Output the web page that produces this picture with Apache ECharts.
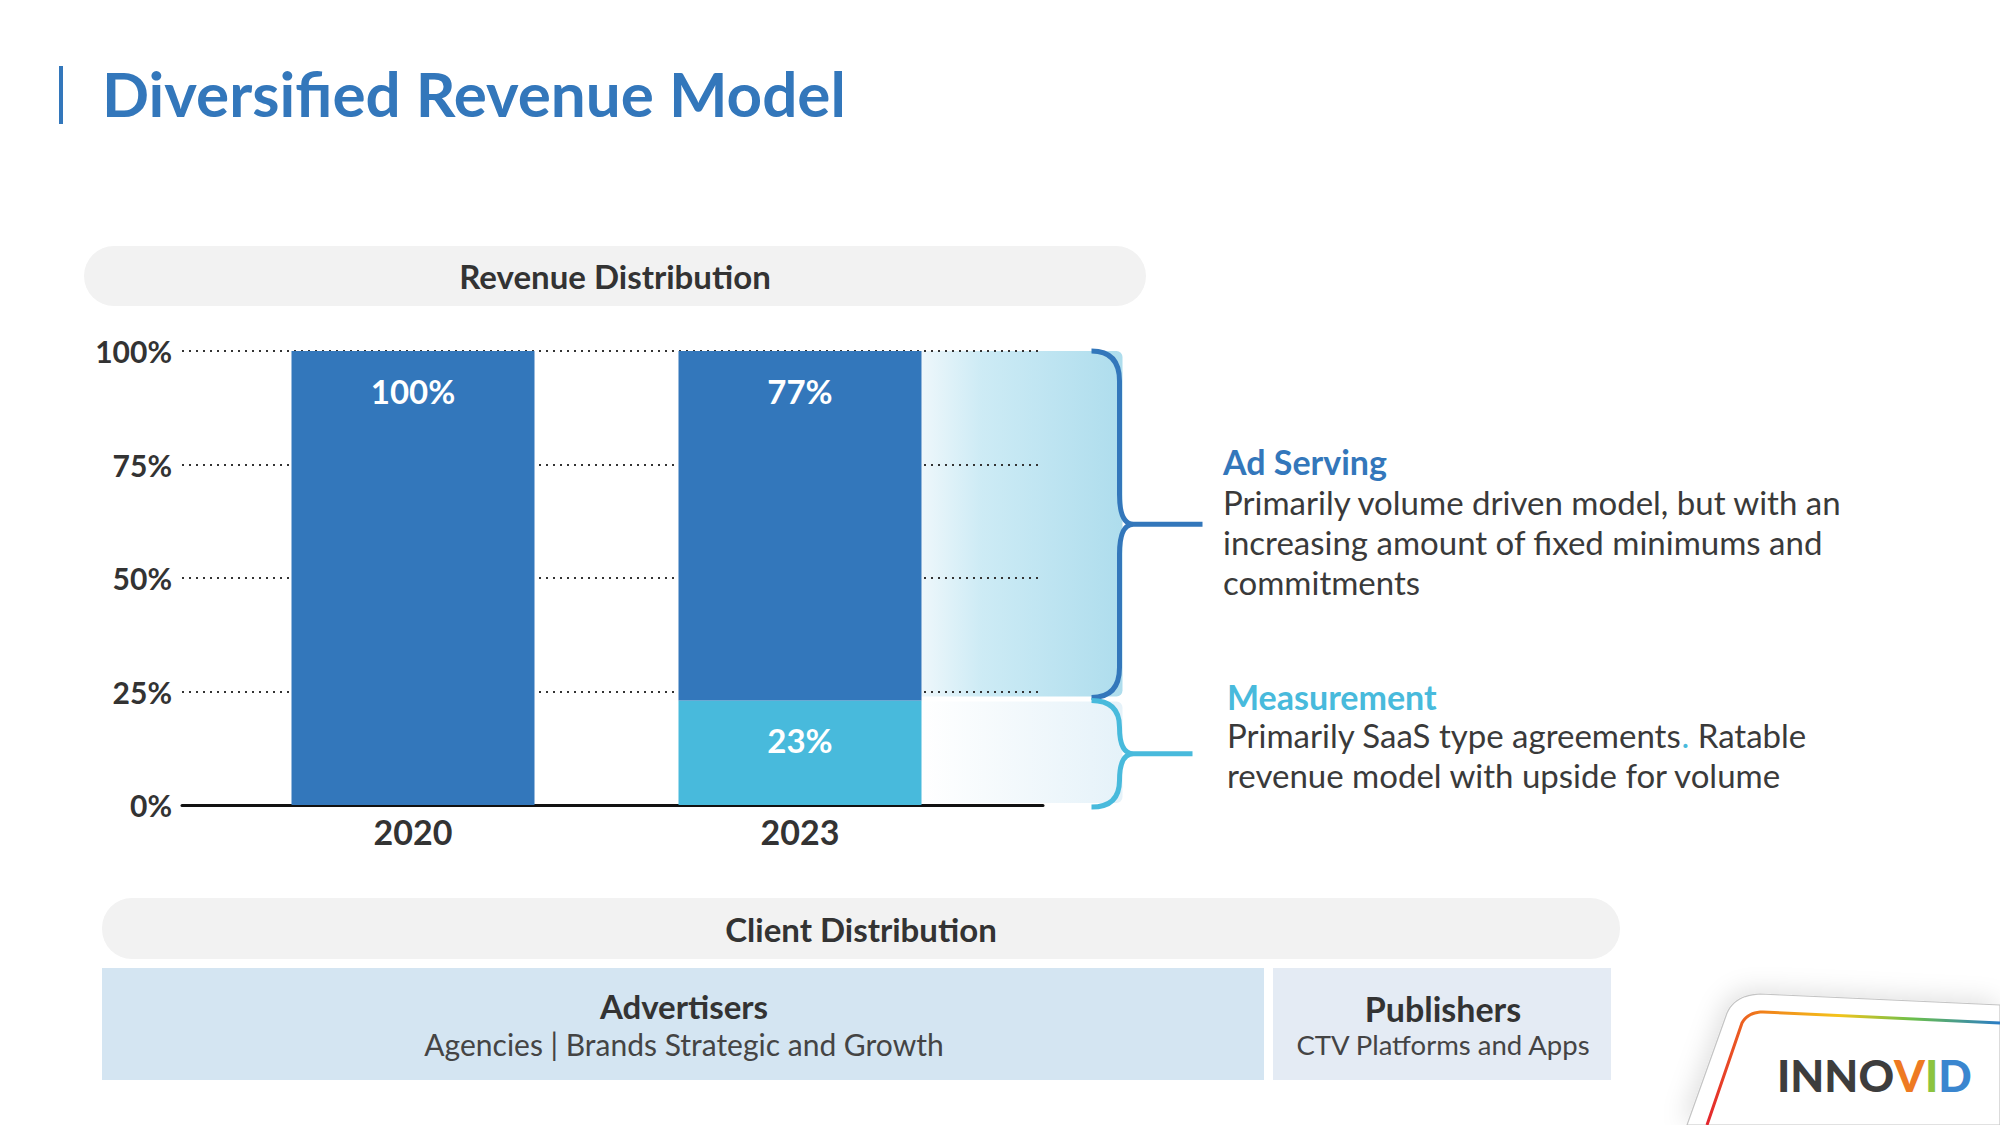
<!DOCTYPE html>
<html>
<head>
<meta charset="utf-8">
<script src="https://cdn.jsdelivr.net/npm/echarts@6/dist/echarts.min.js"></script>
<style>
html,body{margin:0;padding:0;background:#fff;}
#chart{width:2000px;height:1125px;}
</style>
</head>
<body>
<div id="chart"></div>
<script>
// ---- data ----
var categories = ['2020', '2023'];
var measurement = [0, 23];
var adServing = [100, 77];
var yTicks = [0, 25, 50, 75, 100];
var segmentNames = ['Ad Serving', 'Measurement'];

// ---- styles ----
var FONT = 'Lato, "Open Sans", sans-serif';
var DARK_BLUE = '#3377bb';
var LIGHT_BLUE = '#48badc';
var TEXT = '#3a3a3a';
var BAR_W = 243;

var chart = echarts.init(document.getElementById('chart'), null, {renderer: 'svg'});

// segments of the last (2023) bar, derived from the data
var last = categories.length - 1;
var segData = [
  [last, measurement[last], measurement[last] + adServing[last], 0],
  [last, 0, measurement[last], 1]
];
var segStyle = [
  {color: DARK_BLUE, stops: [[0, '#eef7fb'], [0.3, '#cdebf5'], [1, '#aedded']], gapTop: 0, gapBot: 4, bTop: 0, bBot: 3, lineLen: 281},
  {color: LIGHT_BLUE, stops: [[0, '#ffffff'], [1, '#e5f2f9']], gapTop: 1, gapBot: 2, bTop: 0, bBot: 2, lineLen: 271}
];

function shadeItem(params, api) {
  var s = segStyle[api.value(3)];
  var top = api.coord([api.value(0), api.value(2)]);
  var bot = api.coord([api.value(0), api.value(1)]);
  var x0 = top[0] + BAR_W / 2;
  var y0 = top[1] + s.gapTop, y1 = bot[1] - s.gapBot;
  return {
    type: 'rect',
    shape: {x: x0, y: y0, width: 201, height: y1 - y0, r: [0, 6, 6, 0]},
    style: {fill: new echarts.graphic.LinearGradient(0, 0, 1, 0, s.stops.map(function (p) { return {offset: p[0], color: p[1]}; }))}
  };
}
function braceItem(params, api) {
  var s = segStyle[api.value(3)];
  var top = api.coord([api.value(0), api.value(2)]);
  var bot = api.coord([api.value(0), api.value(1)]);
  var x0 = top[0] + BAR_W / 2;
  var yT = top[1] + s.bTop, yB = bot[1] + (api.value(3) === 0 ? -s.bBot : s.bBot);
  var ym = (yT + yB) / 2;
  var xt = x0 + 170, xs = x0 + 198, xp = x0 + 212, xe = x0 + s.lineLen;
  var r = Math.min(30, (yB - yT) / 4);
  var d = 'M' + xt + ',' + yT +
    ' Q' + xs + ',' + yT + ' ' + xs + ',' + (yT + r) +
    ' L' + xs + ',' + (ym - r) +
    ' Q' + xs + ',' + ym + ' ' + xp + ',' + ym +
    ' Q' + xs + ',' + ym + ' ' + xs + ',' + (ym + r) +
    ' L' + xs + ',' + (yB - r) +
    ' Q' + xs + ',' + yB + ' ' + xt + ',' + yB +
    ' M' + xp + ',' + ym + ' L' + xe + ',' + ym;
  return {
    type: 'path',
    shape: {pathData: d},
    style: {fill: 'none', stroke: s.color, lineWidth: 5, lineCap: 'butt'}
  };
}

// helper for the logo card outline (decoration): points along a rounded corner
function cornerPts(a, c, b, n) {
  var pts = [];
  for (var i = 0; i <= n; i++) {
    var t = i / n, u = 1 - t;
    pts.push([u * u * a[0] + 2 * u * t * c[0] + t * t * b[0], u * u * a[1] + 2 * u * t * c[1] + t * t * b[1]]);
  }
  return pts;
}
var cardPts = [[1687, 1125]].concat(cornerPts([1727, 1013], [1735, 995], [1760, 994], 12)).concat([[2000, 1005], [2000, 1125]]);
var rainbowPts = [[1707, 1125]].concat(cornerPts([1742, 1023], [1748, 1012], [1763, 1012], 10)).concat([[2000, 1023]]);

var option = {
  backgroundColor: '#ffffff',
  textStyle: {fontFamily: FONT},
  grid: [
    {left: 182, top: 351, width: 861, height: 454},
    {left: 219.5, top: 351, width: 774, height: 454}
  ],
  xAxis: [
    {gridIndex: 0, type: 'value', min: 0, max: 1,
     axisLine: {show: true, lineStyle: {color: '#111', width: 3}},
     axisTick: {show: false}, axisLabel: {show: false}, splitLine: {show: false}},
    {gridIndex: 1, type: 'category', data: categories,
     axisLine: {show: false}, axisTick: {show: false},
     axisLabel: {margin: 9, fontSize: 34, fontWeight: 'bold', color: '#333', fontFamily: FONT}}
  ],
  yAxis: [
    {gridIndex: 0, type: 'value', min: yTicks[0], max: yTicks[yTicks.length - 1], interval: 25,
     axisLine: {show: false}, axisTick: {show: false},
     axisLabel: {formatter: '{value}%', margin: 10, fontSize: 30, fontWeight: 'bold', color: '#333', fontFamily: FONT, padding: [0, 0, 4, 0]},
     splitLine: {show: true, lineStyle: {type: [2, 5], width: 2, color: '#333'}}},
    {gridIndex: 1, type: 'value', min: 0, max: 100, show: false}
  ],
  series: [
    {type: 'custom', name: 'shade', xAxisIndex: 1, yAxisIndex: 1, data: segData, renderItem: shadeItem,
     clip: false, z: -1, silent: true, encode: {x: 0, y: [1, 2]}},
    {type: 'bar', name: segmentNames[1], stack: 'rev', xAxisIndex: 1, yAxisIndex: 1, data: measurement,
     barWidth: BAR_W, itemStyle: {color: LIGHT_BLUE},
     label: {show: true, position: 'insideTop', distance: 23, color: '#fff', fontSize: 33, fontWeight: 'bold', fontFamily: FONT,
       formatter: function (p) { return p.value > 0 ? p.value + '%' : ''; }}},
    {type: 'bar', name: segmentNames[0], stack: 'rev', xAxisIndex: 1, yAxisIndex: 1, data: adServing,
     barWidth: BAR_W, itemStyle: {color: DARK_BLUE},
     label: {show: true, position: 'insideTop', distance: 23, color: '#fff', fontSize: 33, fontWeight: 'bold', fontFamily: FONT,
       formatter: function (p) { return p.value > 0 ? p.value + '%' : ''; }}},
    {type: 'custom', name: 'brace', xAxisIndex: 1, yAxisIndex: 1, data: segData, renderItem: braceItem,
     clip: false, z: 5, silent: true, encode: {x: 0, y: [1, 2]}}
  ],
  graphic: [
    // title
    {type: 'rect', shape: {x: 59, y: 66, width: 4, height: 58}, style: {fill: DARK_BLUE}},
    {type: 'text', x: 102, y: 93, style: {text: 'Diversified Revenue Model', fill: DARK_BLUE, font: 'bold 62px ' + FONT, textVerticalAlign: 'middle'}},
    // revenue pill
    {type: 'rect', shape: {x: 84, y: 246, width: 1062, height: 60, r: 30}, style: {fill: '#f2f2f2'}},
    {type: 'text', x: 615, y: 276, style: {text: 'Revenue Distribution', fill: '#333', font: 'bold 33px ' + FONT, textAlign: 'center', textVerticalAlign: 'middle'}},
    // right annotations
    {type: 'text', x: 1223, y: 461, style: {text: segmentNames[0], fill: DARK_BLUE, font: 'bold 34px ' + FONT, textVerticalAlign: 'middle'}},
    {type: 'text', x: 1223, y: 482, style: {text: 'Primarily volume driven model, but with an\nincreasing amount of fixed minimums and\ncommitments', fill: TEXT, font: '33px ' + FONT, lineHeight: 40, textVerticalAlign: 'top'}},
    {type: 'text', x: 1227, y: 696, style: {text: segmentNames[1], fill: LIGHT_BLUE, font: 'bold 34px ' + FONT, textVerticalAlign: 'middle'}},
    {type: 'text', x: 1227, y: 715, style: {text: 'Primarily SaaS type agreements{d|.} Ratable\nrevenue model with upside for volume', fill: TEXT, font: '33px ' + FONT, lineHeight: 40, textVerticalAlign: 'top',
      rich: {d: {fill: LIGHT_BLUE, fontSize: 33, fontFamily: FONT, lineHeight: 40}}}},
    // client distribution
    {type: 'rect', shape: {x: 102, y: 898, width: 1518, height: 61, r: 30}, style: {fill: '#f2f2f2'}},
    {type: 'text', x: 861, y: 929, style: {text: 'Client Distribution', fill: '#333', font: 'bold 33px ' + FONT, textAlign: 'center', textVerticalAlign: 'middle'}},
    {type: 'rect', shape: {x: 102, y: 968, width: 1162, height: 112}, style: {fill: '#d4e5f2'}},
    {type: 'rect', shape: {x: 1273, y: 968, width: 338, height: 112}, style: {fill: '#e4ebf4'}},
    {type: 'text', x: 684, y: 1006, style: {text: 'Advertisers', fill: '#333', font: 'bold 33px ' + FONT, textAlign: 'center', textVerticalAlign: 'middle'}},
    {type: 'text', x: 684, y: 1044, style: {text: 'Agencies | Brands Strategic and Growth', fill: '#444', font: '30px ' + FONT, textAlign: 'center', textVerticalAlign: 'middle'}},
    {type: 'text', x: 1443, y: 1008, style: {text: 'Publishers', fill: '#333', font: 'bold 34px ' + FONT, textAlign: 'center', textVerticalAlign: 'middle'}},
    {type: 'text', x: 1443, y: 1044, style: {text: 'CTV Platforms and Apps', fill: '#444', font: '27.5px ' + FONT, textAlign: 'center', textVerticalAlign: 'middle'}},
    // logo card
    {type: 'polygon', shape: {points: cardPts},
     style: {fill: '#ffffff', stroke: '#c4c4c4', lineWidth: 1.2, shadowBlur: 25, shadowColor: 'rgba(0,0,0,0.12)', shadowOffsetX: -4, shadowOffsetY: -4}},
    {type: 'polyline', shape: {points: rainbowPts},
     style: {fill: 'none', lineWidth: 3, stroke: new echarts.graphic.LinearGradient(0, 0, 1, 0, [
       {offset: 0, color: '#e3262e'}, {offset: 0.18, color: '#f07d1a'}, {offset: 0.45, color: '#f4c41b'},
       {offset: 0.7, color: '#6cbf4a'}, {offset: 1, color: '#2a7cc7'}])}},
    {type: 'text', x: 1777, y: 1075, style: {text: 'INNO{v|V}{i|I}{d|D}', fill: '#3d3d3d', font: '900 44px ' + FONT, textVerticalAlign: 'middle',
      rich: {v: {fill: '#ee7a22', fontSize: 44, fontWeight: 900, fontFamily: FONT},
             i: {fill: '#8cc43f', fontSize: 44, fontWeight: 900, fontFamily: FONT},
             d: {fill: '#3a86cf', fontSize: 44, fontWeight: 900, fontFamily: FONT}}}}
  ]
};
chart.setOption(option);
</script>
</body>
</html>
